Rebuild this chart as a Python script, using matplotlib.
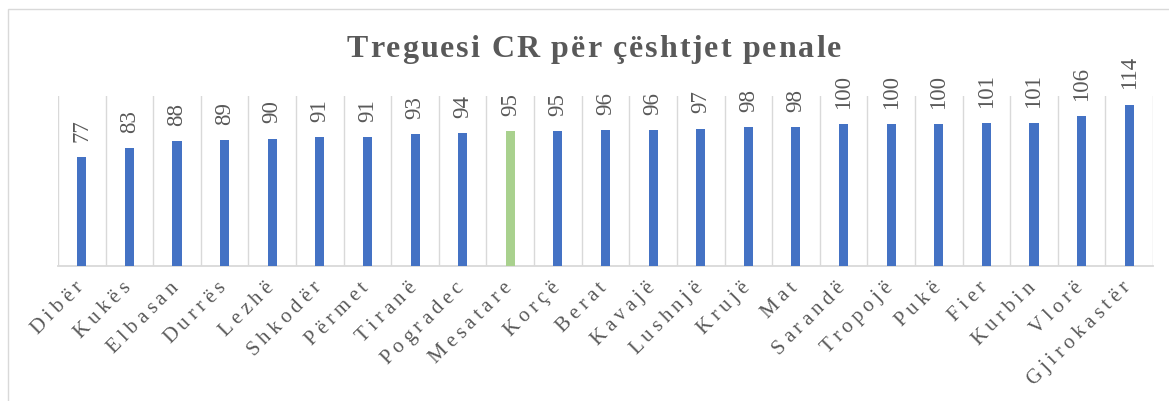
import math
import matplotlib
matplotlib.use("Agg")
import matplotlib.pyplot as plt
from matplotlib.font_manager import FontProperties, findfont, get_font
from matplotlib.patches import Rectangle

# Data
districts = ["Dibër", "Kukës", "Elbasan", "Durrës", "Lezhë", "Shkodër", "Përmet",
             "Tiranë", "Pogradec", "Mesatare", "Korçë", "Berat", "Kavajë", "Lushnjë",
             "Krujë", "Mat", "Sarandë", "Tropojë", "Pukë", "Fier", "Kurbin", "Vlorë",
             "Gjirokastër"]
values = [77, 83, 88, 89, 90, 91, 91, 93, 94, 95, 95, 96, 96, 97, 98, 98, 100,
          100, 100, 101, 101, 106, 114]
average_label = "Mesatare"
title = "Treguesi CR për çështjet penale"

BLUE = "#4472C4"
GREEN = "#A9D18E"
GRID = "#D9D9D9"
TEXT = "#595959"

W, H, DPI = 1169, 401, 100
fig = plt.figure(figsize=(W / DPI, H / DPI), dpi=DPI)
fig.patch.set_facecolor("white")

# Chart-area border (left and top edges visible)
fig.add_artist(Rectangle((8 / W, -0.05), 1.2, (H - 9) / H + 0.05,
                         transform=fig.transFigure, fill=False,
                         edgecolor=GRID, linewidth=1.0))

ax = fig.add_axes([58 / W, (H - 266) / H, (1153 - 58) / W, (266 - 96) / H])
n = len(districts)
x = list(range(n))
colors = [GREEN if d == average_label else BLUE for d in districts]
ax.bar(x, values, width=0.19, color=colors, zorder=3)

ax.set_xlim(-0.5, n - 0.5)
ax.set_ylim(0, 120)
for b in [i - 0.5 for i in range(n + 1)]:
    ax.axvline(b, color=GRID, linewidth=1.0, zorder=1)
for side in ["left", "right", "top"]:
    ax.spines[side].set_visible(False)
ax.spines["bottom"].set_color(GRID)
ax.spines["bottom"].set_linewidth(1.3)
ax.set_xticks([])
ax.set_yticks([])

serif = "Liberation Serif"


def advances(text, fp):
    font = get_font(findfont(fp))
    font.set_size(fp.get_size_in_points(), 72)
    return [font.load_char(ord(c)).linearHoriAdvance / 65536 for c in text]


def spaced(text, xy, xycoords, start, angle_deg, fp, spacing, color):
    adv = advances(text, fp)
    c = math.cos(math.radians(angle_deg))
    s = math.sin(math.radians(angle_deg))
    pos = 0.0
    for ch, a in zip(text, adv):
        if ch != " ":
            ax.annotate(ch, xy=xy, xycoords=xycoords,
                        xytext=(start[0] + pos * c, start[1] + pos * s),
                        textcoords="offset points", rotation=angle_deg,
                        rotation_mode="anchor", ha="left", va="baseline",
                        fontproperties=fp, color=color, annotation_clip=False)
        pos += a + spacing
    return pos - spacing


def total_len(text, fp, spacing):
    return sum(advances(text, fp)) + spacing * (len(text) - 1)


# Title, letter-spaced and centred
title_fp = FontProperties(family=serif, weight="bold", size=23)
title_sp = 1.38
L = total_len(title, title_fp, title_sp)
spaced(title, (594, H - 56.7), "figure pixels", (-L / 2, 0), 0, title_fp,
       title_sp, TEXT)

# Category labels at 45 degrees, ending under each category
lab_fp = FontProperties(family=serif, size=15)
lab_sp = 3.2
end_dx, end_dy = 1.1, -16.2
for i, d in enumerate(districts):
    L = total_len(d, lab_fp, lab_sp)
    c = math.cos(math.radians(45))
    start = (end_dx - L * c, end_dy - L * c)
    spaced(d, (i, 0), ("data", "axes fraction"), start, 45, lab_fp, lab_sp, TEXT)

# Value labels above bars
val_fp = FontProperties(family=serif, size=16.5)
for i, v in enumerate(values):
    ax.annotate(str(v), xy=(i, v), xytext=(0, 11), textcoords="offset points",
                rotation=90, ha="center", va="bottom", fontproperties=val_fp,
                color=TEXT, annotation_clip=False)

fig.savefig("out.png", dpi=DPI)
